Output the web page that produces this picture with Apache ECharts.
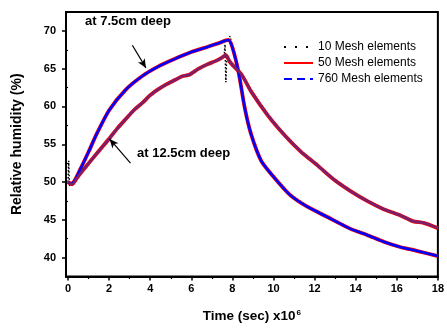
<!DOCTYPE html>
<html><head><meta charset="utf-8">
<script src="https://cdn.jsdelivr.net/npm/echarts@6/dist/echarts.min.js"></script>
<style>html,body{margin:0;padding:0;background:#fff}#c{width:447px;height:328px}</style>
</head><body><div id="c"></div>
<script>
const xTicks = [0, 2, 4, 6, 8, 10, 12, 14, 16, 18];
const xMinorTicks = [1, 3, 5, 7, 9, 11, 13, 15, 17];
const yTicks = [40, 45, 50, 55, 60, 65, 70];
const yMinorTicks = [42.5, 47.5, 52.5, 57.5, 62.5, 67.5, 72.5];
const seriesNames = ['10 Mesh elements', '50 Mesh elements', '760 Mesh elements'];

// 7.5 cm deep (upper curve)
const tUpper = [0, 0.15, 0.3, 0.6, 1.0, 1.4, 2.0, 2.8, 3.6, 4.4, 5.2, 6.0, 6.8, 7.3, 7.8, 8.0, 8.3, 8.6, 8.9, 9.4, 10.0, 10.8, 11.6, 12.6, 13.75, 14.55, 15.36, 16.16, 16.96, 18];
const rhUpper50 = [50.0, 49.8, 50.1, 51.7, 54.0, 56.4, 59.5, 62.2, 64.0, 65.3, 66.3, 67.2, 67.9, 68.35, 68.8, 67.8, 64.5, 59.8, 56.4, 52.8, 50.7, 48.3, 46.8, 45.4, 43.8, 43.0, 42.1, 41.4, 40.9, 40.2];
const rhUpper760 = [50.0, 49.8, 50.1, 51.7, 54.0, 56.4, 59.5, 62.2, 64.0, 65.3, 66.3, 67.2, 67.9, 68.35, 68.8, 67.8, 64.5, 59.8, 56.4, 52.8, 50.7, 48.3, 46.8, 45.4, 43.8, 43.0, 42.1, 41.4, 40.9, 40.2];
const tUpper10 = [0, 0.03, 0.07, 0.15, 0.3, 0.6, 1.0, 1.4, 2.0, 2.8, 3.6, 4.4, 5.2, 6.0, 6.8, 7.3, 7.8, 7.88, 8.0, 8.3, 8.6, 8.9, 9.4, 10.0, 10.8, 11.6, 12.6, 13.75, 14.55, 15.36, 16.16, 16.96, 18];
const rhUpper10 = [50.0, 52.8, 49.5, 49.8, 50.1, 51.7, 54.0, 56.4, 59.5, 62.2, 64.0, 65.3, 66.3, 67.2, 67.9, 68.35, 68.8, 69.3, 67.9, 64.6, 59.9, 56.5, 52.9, 50.8, 48.4, 46.9, 45.5, 43.9, 43.1, 42.2, 41.5, 41.0, 40.3];

// 12.5 cm deep (lower curve)
const tLower = [0, 0.2, 0.42, 0.8, 1.22, 1.62, 2.02, 2.4, 2.83, 3.2, 3.63, 4.0, 4.4, 4.76, 5.2, 5.56, 5.9, 6.36, 6.8, 7.17, 7.45, 7.68, 7.85, 8.0, 8.45, 8.93, 9.73, 10.54, 11.34, 12.14, 12.95, 13.75, 14.55, 15.36, 16.16, 16.8, 17.3, 18];
const rhLower50 = [50.0, 49.7, 50.5, 51.8, 53.2, 54.5, 55.8, 57.1, 58.4, 59.5, 60.5, 61.5, 62.3, 62.9, 63.5, 64.0, 64.2, 65.0, 65.6, 66.0, 66.4, 66.8, 66.0, 65.5, 64.2, 61.9, 58.8, 56.2, 54.0, 52.2, 50.3, 48.8, 47.5, 46.4, 45.6, 44.8, 44.6, 43.9];
const rhLower760 = [50.0, 49.7, 50.5, 51.8, 53.2, 54.5, 55.8, 57.1, 58.4, 59.5, 60.5, 61.5, 62.3, 62.9, 63.5, 64.0, 64.2, 65.0, 65.6, 66.0, 66.4, 66.8, 66.0, 65.5, 64.2, 61.9, 58.8, 56.2, 54.0, 52.2, 50.3, 48.8, 47.5, 46.4, 45.6, 44.8, 44.6, 43.9];
const tLower10 = [0, 0.2, 0.42, 0.8, 1.22, 2.02, 2.83, 3.63, 4.4, 5.2, 5.56, 5.9, 6.36, 7.17, 7.6, 7.64, 7.68, 7.72, 7.85, 8.0, 8.45, 8.93, 9.73, 10.54, 11.34, 12.14, 12.95, 13.75, 14.55, 15.36, 16.16, 16.8, 17.3, 18];
const rhLower10 = [50.0, 49.7, 50.5, 51.8, 53.2, 55.8, 58.4, 60.5, 62.3, 63.5, 64.0, 64.2, 65.0, 66.0, 66.7, 68.2, 63.2, 66.6, 65.9, 65.6, 64.4, 62.0, 58.9, 56.3, 54.1, 52.3, 50.4, 48.9, 47.6, 46.5, 45.7, 44.9, 44.7, 44.0];

// annotation arrows (data coordinates): [start, end]
const arrowUpper = [[3.13, 68.1], [3.79, 65.1]];
const arrowLower = [[3.04, 52.5], [2.02, 55.7]];

const FONT = '"Liberation Sans", Arial, sans-serif';
const pairs = (xs, ys) => xs.map((x, i) => [x, ys[i]]);

const chart = echarts.init(document.getElementById('c'), null, {renderer: 'canvas'});
const base = {type: 'line', symbol: 'none', showSymbol: false, animation: false, silent: true, xAxisIndex: 0, yAxisIndex: 0};
const smoothOpt = {smooth: 0.25};
const noSym = {opacity: 0, borderWidth: 0};

chart.setOption({
  animation: false,
  backgroundColor: '#fff',
  grid: {left: 66, right: 6, top: 12, bottom: 48, show: true, borderColor: '#000', borderWidth: 2, backgroundColor: 'transparent'},
  legend: {
    show: true, left: 283, top: 41, padding: 0, orient: 'vertical', itemWidth: 29, itemHeight: 14, itemGap: 4,
    textStyle: {fontFamily: FONT, fontSize: 12, color: '#000'},
    data: [
      {name: seriesNames[0], itemStyle: noSym, lineStyle: {color: '#000', width: 2, type: [2, 9], opacity: 1}},
      {name: seriesNames[1], itemStyle: noSym, lineStyle: {color: '#ff0000', width: 2, type: 'solid', opacity: 1}},
      {name: seriesNames[2], itemStyle: noSym, lineStyle: {color: '#0000ff', width: 2, type: [8, 5], opacity: 1}}
    ]
  },
  xAxis: [{
    type: 'value', min: -0.1, max: 18, position: 'bottom',
    name: 'Time (sec) x10{sup|6}', nameLocation: 'middle', nameGap: 32,
    nameTextStyle: {fontFamily: FONT, fontSize: 13.5, fontWeight: 'bold', color: '#000',
      rich: {sup: {fontFamily: FONT, fontSize: 8, fontWeight: 'bold', color: '#000', verticalAlign: 'top', padding: [0, 0, 7, 1]}}},
    axisLine: {show: true, onZero: false, lineStyle: {color: '#000', width: 2}},
    axisTick: {show: true, inside: false, length: 4, lineStyle: {color: '#000', width: 1.5}, customValues: xTicks},
    axisLabel: {show: true, margin: 7, fontFamily: FONT, fontSize: 11, fontWeight: 'bold', color: '#000', customValues: xTicks},
    splitLine: {show: false}
  }, {
    type: 'value', min: -0.1, max: 18, position: 'bottom',
    axisLine: {show: false},
    axisTick: {show: true, length: 2.5, lineStyle: {color: '#000', width: 1.2}, customValues: xMinorTicks},
    axisLabel: {show: false}, splitLine: {show: false}
  }],
  yAxis: [{
    type: 'value', min: 37.5, max: 72.5, position: 'left',
    name: 'Relative humidity (%)', nameLocation: 'middle', nameGap: 42,
    nameTextStyle: {fontFamily: FONT, fontSize: 14, fontWeight: 'bold', color: '#000'},
    axisLine: {show: true, onZero: false, lineStyle: {color: '#000', width: 2}},
    axisTick: {show: true, inside: false, length: 4, lineStyle: {color: '#000', width: 1.5}, customValues: yTicks},
    axisLabel: {show: true, margin: 10, fontFamily: FONT, fontSize: 11, fontWeight: 'bold', color: '#000', customValues: yTicks},
    splitLine: {show: false}
  }, {
    type: 'value', min: 37.5, max: 72.5, position: 'left',
    axisLine: {show: false},
    axisTick: {show: true, length: 2.5, lineStyle: {color: '#000', width: 1.2}, customValues: yMinorTicks},
    axisLabel: {show: false}, splitLine: {show: false}
  }],
  graphic: [
    {type: 'text', left: 85, top: 15, silent: true, style: {text: 'at 7.5cm deep', font: 'bold 13px ' + FONT, fill: '#000'}},
    {type: 'text', left: 137, top: 147, silent: true, style: {text: 'at 12.5cm deep', font: 'bold 13px ' + FONT, fill: '#000'}}
  ],
  series: [
    Object.assign({}, base, {name: seriesNames[0], z: 2, data: pairs(tUpper10, rhUpper10),
      lineStyle: {color: '#000', width: 1.5, type: [1.5, 2]}, itemStyle: {color: '#000'},
      markLine: {silent: true, symbol: ['none', 'arrow'], symbolSize: [6, 9], animation: false,
        lineStyle: {color: '#000', width: 1.2, type: 'solid'}, label: {show: false},
        data: [[{coord: arrowUpper[0]}, {coord: arrowUpper[1]}], [{coord: arrowLower[0]}, {coord: arrowLower[1]}]]}}),
    Object.assign({}, base, {name: seriesNames[0], z: 2, data: pairs(tLower10, rhLower10),
      lineStyle: {color: '#000', width: 1.5, type: [1.5, 2]}, itemStyle: {color: '#000'}}),
    Object.assign({}, base, smoothOpt, {name: seriesNames[1], z: 3, data: pairs(tUpper, rhUpper50),
      lineStyle: {color: '#ff0000', width: 3.8, type: 'solid'}, itemStyle: {color: '#ff0000'}}),
    Object.assign({}, base, smoothOpt, {name: seriesNames[1], z: 3, data: pairs(tLower, rhLower50),
      lineStyle: {color: '#ff0000', width: 3.8, type: 'solid'}, itemStyle: {color: '#ff0000'}}),
    Object.assign({}, base, smoothOpt, {name: seriesNames[2], z: 4, data: pairs(tUpper, rhUpper760),
      lineStyle: {color: '#0000ff', width: 2.6, type: 'solid'}, itemStyle: {color: '#0000ff'}}),
    Object.assign({}, base, smoothOpt, {name: seriesNames[2], z: 4, data: pairs(tLower, rhLower760),
      lineStyle: {color: '#7a1f6a', width: 2.6, type: 'solid'}, itemStyle: {color: '#0000ff'}})
  ]
});
</script></body></html>
